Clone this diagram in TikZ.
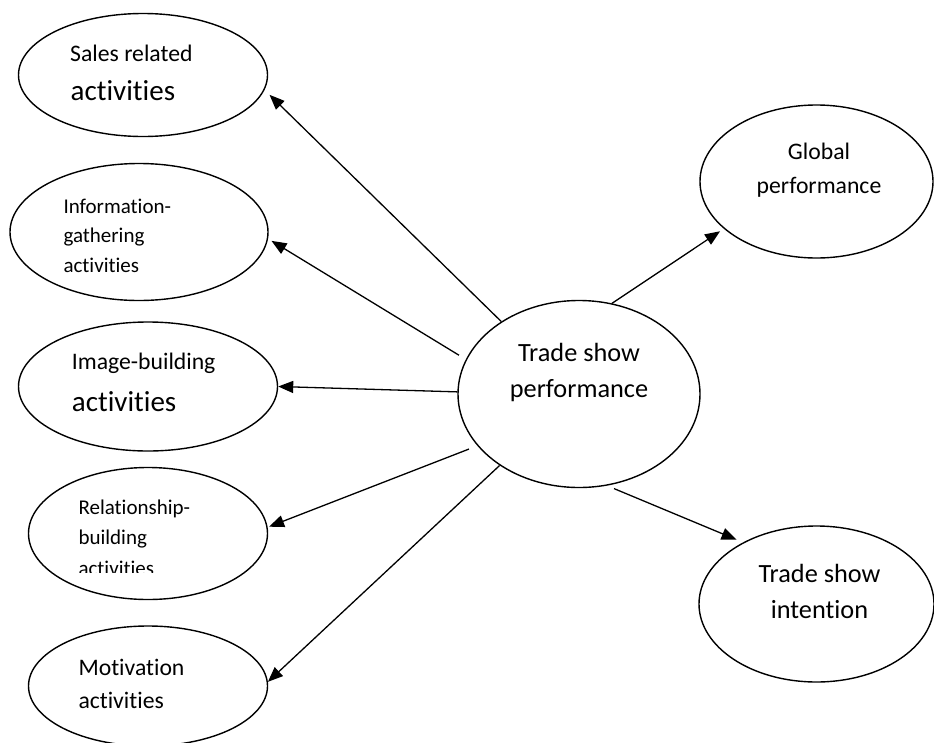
\documentclass[tikz,border=0pt]{standalone}
\usepackage{fontspec}
\setmainfont{Carlito}[Ligatures=NoCommon]
\usetikzlibrary{shapes.geometric,arrows.meta}
\begin{document}
\begin{tikzpicture}[x=1pt,y=-1pt,
  ell/.style={draw=black, line width=1.4pt, ellipse, inner sep=0pt},
  lbl/.style={inner sep=0pt, text=black},
  fsmall/.style={font=\fontsize{21pt}{25pt}\selectfont},
  fmid/.style={font=\fontsize{23.7pt}{28pt}\selectfont},
  fbig/.style={font=\fontsize{29pt}{34pt}\selectfont},
  fcen/.style={font=\fontsize{26.3pt}{31pt}\selectfont},
  conn/.style={draw=black, line width=1.3pt, -{Triangle[length=15pt,width=12pt]}},
]
\useasboundingbox (0,0) rectangle (934,742);

% ellipses
\node[ell, minimum width=249pt, minimum height=123pt] (sales)  at (143,75)    {};
\node[ell, minimum width=258pt, minimum height=137pt] (info)   at (139,232)   {};
\node[ell, minimum width=259pt, minimum height=129pt] (image)  at (148,386.5) {};
\node[ell, minimum width=239pt, minimum height=132pt] (rel)    at (148,533.5) {};
\node[ell, minimum width=239pt, minimum height=120pt] (motiv)  at (148,686)   {};
\node[ell, minimum width=242pt, minimum height=187pt] (perf)   at (579,394)   {};
\node[ell, minimum width=233pt, minimum height=153pt] (global) at (816.5,181.5) {};
\node[ell, minimum width=235pt, minimum height=156pt] (intent) at (816.5,604) {};

% texts
\node[lbl, fmid, anchor=base west] (salesA) at (70,61.5) {Sales related};
\node[lbl, fbig, anchor=base west] (salesB) at (70.5,100) {activities};

\node[lbl, fsmall, anchor=base west] (infoA) at (63.3,213) {Information-};
\node[lbl, fsmall, anchor=base west] (infoB) at (63.3,242.5) {gathering};
\node[lbl, fsmall, anchor=base west] (infoC) at (63.3,272) {activities};

\node[lbl, fmid, anchor=base west] (imageA) at (71.7,369.5) {Image-building};
\node[lbl, fbig, anchor=base west] (imageB) at (71.7,411) {activities};

\node[lbl, fsmall, anchor=base west] (relA) at (78.3,514) {Relationship-};
\node[lbl, fsmall, anchor=base west] (relB) at (78.3,544) {building};
\begin{scope}
  \clip (60,550) rectangle (260,572.7);
  \node[lbl, fsmall, anchor=base west] (relC) at (78.3,575) {activities};
\end{scope}

\node[lbl, fmid, anchor=base west] (motA) at (78.3,675) {Motivation};
\node[lbl, fmid, anchor=base west] (motB) at (78.3,708) {activities};

\node[lbl, fcen, anchor=base] (perfA) at (579,361) {Trade show};
\node[lbl, fcen, anchor=base] (perfB) at (579,397) {performance};

\node[lbl, fmid, anchor=base] (globA) at (819,159) {Global};
\node[lbl, fmid, anchor=base] (globB) at (819,193) {performance};

\node[lbl, fcen, anchor=base] (intA) at (819.5,582) {Trade show};
\node[lbl, fcen, anchor=base] (intB) at (819.5,618) {intention};

% connectors
\draw[conn, shorten >=7pt] (perf.137.5) -- (sales.-7.2);
\draw[conn, shorten <=8pt, shorten >=4pt] (perf.163.6) -- (info.-3.85);
\draw[conn] (perf.179) -- (image.0);
\draw[conn, shorten <=9pt, shorten >=1.5pt] (perf.207.9) -- (rel.3.85);
\draw[conn] (perf.222.4) -- (motiv.2.7);
\draw[conn, shorten >=4.5pt] (perf.70.4) -- (global.207.9);
\draw[conn, shorten <=7.6pt, shorten >=7pt] (perf.287.5) -- (intent.140.75);
\end{tikzpicture}
\end{document}
